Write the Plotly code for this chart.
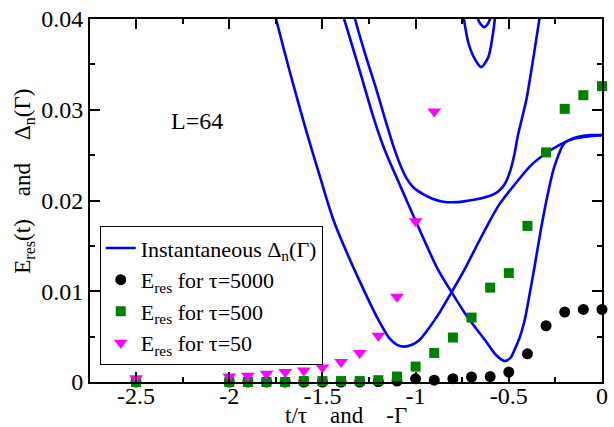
import plotly.graph_objects as go

FONT = "Liberation Serif"
FS = 24

# ---- data: marker series ----
tau5000_x = [-2.5, -2.0, -1.9, -1.8, -1.7, -1.6, -1.5, -1.4, -1.3, -1.2, -1.1, -1.0, -0.9, -0.8, -0.7, -0.6, -0.5, -0.4, -0.3, -0.2, -0.1, 0.0]
tau5000_y = [0.0, 0.0, 0.0, 0.0, 0.0, 0.0, 0.0, 0.0, 0.0, 0.00005, 0.0001, 0.00035, 0.0002, 0.00037, 0.00055, 0.0006, 0.0011, 0.0031, 0.0062, 0.0077, 0.0080, 0.0080]

tau500_x = [-2.5, -2.0, -1.9, -1.8, -1.7, -1.6, -1.5, -1.4, -1.3, -1.2, -1.1, -1.0, -0.9, -0.8, -0.7, -0.6, -0.5, -0.4, -0.3, -0.2, -0.1, 0.0]
tau500_y = [0.0, 0.0, 0.0, 0.0, 0.0, 0.0001, 0.0001, 0.0001, 0.0001, 0.0002, 0.0006, 0.0017, 0.0032, 0.0049, 0.0071, 0.0104, 0.0120, 0.0172, 0.0253, 0.0301, 0.0316, 0.0326]

tau50_x = [-2.5, -2.0, -1.9, -1.8, -1.7, -1.6, -1.5, -1.4, -1.3, -1.2, -1.1, -1.0, -0.9]
tau50_y = [0.0004, 0.0006, 0.0007, 0.0009, 0.0011, 0.00126, 0.0016, 0.0022, 0.0032, 0.0051, 0.0094, 0.0177, 0.0298]

# ---- data: instantaneous gap curves Delta_n(Gamma), x = -Gamma ----
gapA_x = [-1.768, -1.749, -1.67, -1.59, -1.51, -1.44, -1.37, -1.30, -1.209, -1.14, -1.10, -1.06, -1.02, -0.981, -0.93, -0.87, -0.807, -0.74, -0.68, -0.627, -0.55, -0.451, -0.38, -0.30, -0.23, -0.168, -0.10, 0.0]
gapA_y = [0.0415, 0.0400, 0.0338, 0.0279, 0.0224, 0.0178, 0.0143, 0.0111, 0.0072, 0.0048, 0.0041, 0.0039, 0.0041, 0.0046, 0.0059, 0.0077, 0.0099, 0.0123, 0.0147, 0.0168, 0.0196, 0.0222, 0.0239, 0.0252, 0.0261, 0.0267, 0.0270, 0.0272]

gapB_x = [-1.41, -1.384, -1.30, -1.219, -1.166, -1.08, -0.998, -0.94, -0.883, -0.807, -0.72, -0.627, -0.57, -0.521, -0.49, -0.468, -0.44, -0.415, -0.39, -0.362, -0.327, -0.29, -0.256, -0.203, -0.16, -0.133, -0.06, 0.0]
gapB_y = [0.0415, 0.0400, 0.0343, 0.0287, 0.0256, 0.0215, 0.01765, 0.0150, 0.0125, 0.0099, 0.0071, 0.0046, 0.0030, 0.0023, 0.0027, 0.0036, 0.0050, 0.0068, 0.0095, 0.0127, 0.0169, 0.0208, 0.0237, 0.0263, 0.0268, 0.0270, 0.0272, 0.0272]

gapC_x = [-1.34, -1.325, -1.27, -1.21, -1.16, -1.113, -1.08, -1.05, -1.01, -0.96, -0.91, -0.86, -0.804, -0.74, -0.68, -0.636, -0.59, -0.557, -0.525, -0.495, -0.47, -0.451, -0.406, -0.37, -0.336, -0.33]
gapC_y = [0.0415, 0.0400, 0.0361, 0.0322, 0.0287, 0.0256, 0.0238, 0.0225, 0.0214, 0.0207, 0.0202, 0.0199, 0.0198, 0.0199, 0.0201, 0.0203, 0.0206, 0.0210, 0.0217, 0.0231, 0.0251, 0.0272, 0.0311, 0.0355, 0.0400, 0.0408]

gapD_x = [-0.746, -0.742, -0.716, -0.680, -0.648, -0.610, -0.588, -0.574, -0.571]
gapD_y = [0.0406, 0.0401, 0.0373, 0.0355, 0.0347, 0.0358, 0.0380, 0.0401, 0.0406]

gapE_x = [-0.672, -0.666, -0.650, -0.632, -0.615, -0.601, -0.596]
gapE_y = [0.0405, 0.0400, 0.0394, 0.0391, 0.0394, 0.0400, 0.0405]

x_tickvals = [-2.5, -2.0, -1.5, -1.0, -0.5, 0.0]
x_ticktext = ["-2.5", "-2", "-1.5", "-1", "-0.5", "0"]
y_tickvals = [0.0, 0.01, 0.02, 0.03, 0.04]
y_ticktext = ["0", "0.01", "0.02", "0.03", "0.04"]

BLUE = "#0000ff"
fig = go.Figure()

gap_curves = [(gapA_x, gapA_y), (gapB_x, gapB_y), (gapC_x, gapC_y), (gapD_x, gapD_y), (gapE_x, gapE_y)]
for i, (gx, gy) in enumerate(gap_curves):
    fig.add_trace(go.Scatter(
        x=gx, y=gy, mode="lines",
        line=dict(color=BLUE, width=2.6, shape="spline", smoothing=0.8),
        name="Instantaneous Δ<sub>n</sub>(Γ)",
        showlegend=(i == 0), legendgroup="gap", hoverinfo="skip"))

fig.add_trace(go.Scatter(x=tau5000_x, y=tau5000_y, mode="markers",
                         marker=dict(symbol="circle", size=11, color="black"),
                         name="E<sub>res</sub> for τ=5000", cliponaxis=False))
fig.add_trace(go.Scatter(x=tau500_x, y=tau500_y, mode="markers",
                         marker=dict(symbol="square", size=10, color="#008000"),
                         name="E<sub>res</sub> for τ=500", cliponaxis=False))
fig.add_trace(go.Scatter(x=tau50_x, y=tau50_y, mode="markers",
                         marker=dict(symbol="triangle-down", size=12, color="#ff00ff"),
                         name="E<sub>res</sub> for τ=50", cliponaxis=False))

axis_common = dict(
    showline=True, linecolor="black", linewidth=2, mirror="ticks",
    ticks="inside", ticklen=10, tickwidth=1.5, tickcolor="black",
    showgrid=False, zeroline=False,
    tickfont=dict(family=FONT, size=FS, color="black"),
)

fig.update_xaxes(range=[-2.747, 0.0], tickvals=x_tickvals, ticktext=x_ticktext,
                 ticklabelstandoff=-9,
                 minor=dict(dtick=0.25, tick0=0, ticks="inside", ticklen=5, tickwidth=1.5, tickcolor="black", showgrid=False),
                 **axis_common)
fig.update_yaxes(range=[0.0, 0.04], tickvals=y_tickvals, ticktext=y_ticktext,
                 minor=dict(dtick=0.005, tick0=0, ticks="inside", ticklen=5, tickwidth=1.5, tickcolor="black", showgrid=False),
                 **axis_common)

nb = "\u00a0"
fig.update_layout(
    width=614, height=427,
    margin=dict(l=90, r=6, t=19, b=45, pad=0),
    paper_bgcolor="white", plot_bgcolor="white",
    font=dict(family=FONT, size=FS, color="black"),
    showlegend=True,
    legend=dict(x=0.019, y=0.429, xanchor="left", yanchor="top",
                bgcolor="white", bordercolor="black", borderwidth=1,
                font=dict(family=FONT, size=22, color="black"),
                tracegroupgap=0, itemwidth=30),
    annotations=[
        dict(text="L=64", x=-2.172, y=0.0288, xref="x", yref="y",
             showarrow=False, font=dict(family=FONT, size=FS, color="black")),
        dict(text="t/τ" + nb * 4 + "and" + nb * 4 + "-Γ", x=0.5, y=-0.093,
             xref="paper", yref="paper", xanchor="center", yanchor="middle",
             showarrow=False, font=dict(family=FONT, size=23, color="black")),
        dict(text="E<sub>res</sub>(t)" + nb * 4 + "and" + nb * 4 + "Δ<sub>n</sub>(Γ)",
             x=-0.128, y=0.553, xref="paper", yref="paper",
             xanchor="center", yanchor="middle", textangle=-90,
             showarrow=False, font=dict(family=FONT, size=23, color="black")),
    ],
)

fig.write_html("out.html")
